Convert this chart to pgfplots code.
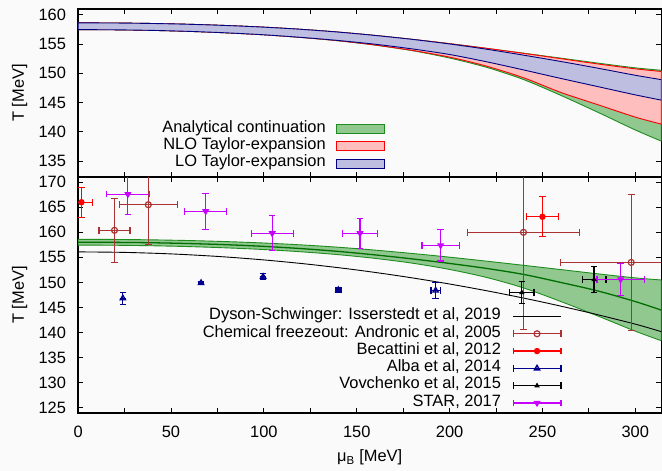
\documentclass[border=0pt]{standalone}
\usepackage{fontspec}
\setmainfont{Liberation Sans}
\usepackage{pgfplots}
\usepgfplotslibrary{fillbetween}
\pgfplotsset{compat=1.18}
\definecolor{bg}{RGB}{250,250,250}
\definecolor{gfill}{RGB}{144,200,144}
\definecolor{gedge}{RGB}{30,140,30}
\definecolor{gcent}{RGB}{0,110,0}
\definecolor{rfill}{RGB}{255,190,190}
\definecolor{redge}{RGB}{255,0,0}
\definecolor{bfill}{RGB}{190,190,225}
\definecolor{bedge}{RGB}{0,0,128}
\definecolor{brownc}{RGB}{170,50,50}
\definecolor{navyc}{RGB}{0,0,140}
\definecolor{starc}{RGB}{200,0,255}
\pgfplotsset{
  common/.style={
    scale only axis, width=586.1pt,
    xmin=0, xmax=314,
    xtick={0,25,...,300},
    tick align=inside, major tick length=5pt,
    axis line style={line width=1.4pt},
    every tick/.style={line width=0.9pt, black},
    ylabel={T [MeV]},
    ylabel style={at={(axis description cs:-0.1002,0.5)}, anchor=center},
    yticklabel style={inner sep=0pt, xshift=-12pt},
    /pgf/number format/assume math mode=true,
    font=\fontsize{16.5}{19}\selectfont,
    legend plot pos=right, legend cell align=right,
  },
  arealeg/.style={legend image code/.code={\draw[##1] (0pt,-4.5pt) rectangle (48pt,4.5pt);}},
  lineleg/.style={legend image code/.code={\draw[##1] (0pt,0pt) -- (48pt,0pt);}},
  ebar/.style={only marks, line width=1.2pt,
    error bars/x dir=both, error bars/y dir=both, error bars/x explicit, error bars/y explicit,
    error bars/error bar style={line width=1.2pt},
    error bars/error mark options={rotate=90, mark size=3.3pt, line width=1.2pt},
    legend image code/.code={
    \draw[##1] (0pt,0pt) -- (48pt,0pt) (0pt,-3.3pt) -- (0pt,3.3pt) (48pt,-3.3pt) -- (48pt,3.3pt);
    \draw[##1] plot coordinates {(24pt,0pt)};}},
}
\begin{document}
\pagecolor{bg}
\fontsize{16.5}{19}\selectfont
\begin{tikzpicture}
\path (0pt,0pt) rectangle (662pt,-470pt);
% ---------------- top panel ----------------
\begin{axis}[common, at={(75.7pt,-8.9pt)}, anchor=north west, height=169.1pt,
  ymin=132.24, ymax=161, ytick={135,140,...,160}, xticklabels={},
  legend style={at={(axis description cs:0.5257,0.3365)}, anchor=north east, draw=none, fill=none,
    inner sep=0pt, outer sep=0pt, row sep=0pt, column sep=10.3pt,
    nodes={inner xsep=0pt, inner ysep=0pt, text height=12pt, text depth=5.35pt}},
]
% analytical continuation
\addplot[draw=none, forget plot, smooth, name path=gu] coordinates {
(0,158.60)(20,158.58)(40,158.50)(60,158.36)(80,158.15)(100,157.87)(120,157.50)(140,157.03)(160,156.45)(180,155.78)(200,155.05)(220,154.25)(240,153.42)(260,152.57)(280,151.72)(300,150.92)(314,150.50)};
\addplot[draw=none, forget plot, smooth, name path=gl] coordinates {
(0,157.45)(20,157.42)(40,157.32)(60,157.15)(80,156.90)(100,156.57)(120,156.12)(140,155.55)(160,154.80)(180,153.85)(200,152.60)(220,151.00)(240,148.90)(260,146.20)(280,143.30)(300,140.30)(314,138.40)};
\addplot[arealeg, draw=gedge, fill=gfill, line width=0.9pt] fill between[of=gu and gl];
\addlegendentry{Analytical continuation}
% NLO
\addplot[draw=none, forget plot, smooth, name path=ru] coordinates {
(0,158.60)(20,158.58)(40,158.50)(60,158.36)(80,158.15)(100,157.87)(120,157.50)(140,157.03)(160,156.45)(180,155.78)(200,155.05)(220,154.25)(240,153.38)(260,152.48)(280,151.58)(300,150.75)(314,150.30)};
\addplot[draw=none, forget plot, smooth, name path=rl] coordinates {
(0,157.45)(20,157.42)(40,157.32)(60,157.15)(80,156.90)(100,156.57)(120,156.12)(140,155.56)(160,154.82)(180,153.90)(200,152.75)(220,151.20)(240,149.20)(260,146.70)(280,144.60)(300,142.50)(314,141.30)};
\addplot[arealeg, draw=redge, fill=rfill, line width=0.9pt] fill between[of=ru and rl];
\addlegendentry{NLO Taylor-expansion}
% LO
\addplot[draw=none, forget plot, smooth, name path=bu] coordinates {
(0,158.60)(20,158.58)(40,158.50)(60,158.36)(80,158.15)(100,157.87)(120,157.50)(140,157.03)(160,156.45)(180,155.78)(200,155.00)(220,154.10)(240,153.08)(260,152.00)(280,150.85)(300,149.65)(314,148.90)};
\addplot[draw=none, forget plot, smooth, name path=bl] coordinates {
(0,157.45)(20,157.42)(40,157.32)(60,157.15)(80,156.90)(100,156.57)(120,156.13)(140,155.60)(160,154.95)(180,154.15)(200,153.20)(220,151.95)(240,150.55)(260,149.10)(280,147.70)(300,146.30)(314,145.40)};
\addplot[arealeg, draw=bedge, fill=bfill, line width=0.9pt] fill between[of=bu and bl];
\addlegendentry{LO Taylor-expansion}
\end{axis}
% ---------------- bottom panel ----------------
\begin{axis}[common, at={(75.7pt,-178pt)}, anchor=north west, height=237pt,
  ymin=124, ymax=171, ytick={125,130,...,170},
  xticklabels={0,,50,,100,,150,,200,,250,,300},
  xticklabel style={inner sep=0pt, yshift=-12.8pt},
  xlabel={μ\textsubscript{B} [MeV]},
  xlabel style={at={(axis description cs:0.5,0)}, anchor=center, yshift=-45pt},
  legend style={at={(axis description cs:0.8289,0.4460)}, anchor=north east, draw=none, fill=none,
    inner sep=0pt, outer sep=0pt, row sep=0pt, column sep=11.7pt,
    nodes={inner xsep=0pt, inner ysep=0pt, text height=12pt, text depth=5.4pt}},
]
\addplot[draw=none, forget plot, smooth, name path=gu2] coordinates {
(0,158.60)(20,158.58)(40,158.50)(60,158.36)(80,158.15)(100,157.87)(120,157.50)(140,157.03)(160,156.45)(180,155.78)(200,155.05)(220,154.25)(240,153.42)(260,152.57)(280,151.72)(300,150.92)(314,150.50)};
\addplot[draw=none, forget plot, smooth, name path=gl2] coordinates {
(0,157.45)(20,157.42)(40,157.32)(60,157.15)(80,156.90)(100,156.57)(120,156.12)(140,155.55)(160,154.80)(180,153.85)(200,152.60)(220,151.00)(240,148.90)(260,146.20)(280,143.30)(300,140.30)(314,138.40)};
\addplot[forget plot, draw=gedge, fill=gfill, line width=0.9pt] fill between[of=gu2 and gl2];
\addplot[forget plot, gcent, line width=1.3pt, smooth] coordinates {
(0,158.02)(20,158.00)(40,157.92)(60,157.76)(80,157.53)(100,157.20)(120,156.76)(140,156.20)(160,155.50)(180,154.70)(200,153.80)(220,152.80)(240,151.60)(260,150.00)(280,148.30)(300,146.20)(314,144.50)
};
\addplot[lineleg, black, line width=0.9pt, smooth] coordinates {
(0,156.1)(25,156.0)(50,155.7)(75,155.2)(100,154.5)(125,153.6)(150,152.5)(175,151.2)(200,149.7)(225,148.0)(250,146.1)(275,144.0)(300,141.7)(314,140.2)
};
\addlegendentry{Dyson-Schwinger: Isserstedt et al, 2019}
\addplot[ebar, brownc, mark=o, mark size=3pt] coordinates {
(19.6,160.4) +- (8.3,6.4)
(37.8,165.5) +- (15.6,8)
(239.8,160.0) +- (30,19.4)
(297.8,154.0) +- (38,13.5)
};
\addlegendentry{Chemical freezeout: Andronic et al, 2005}
\addplot[ebar, redge, mark=*, mark size=2.6pt] coordinates {
(1.8,166.0) +- (6,3)
(250.0,163.1) +- (8.8,4)
};
\addlegendentry{Becattini et al, 2012}
\addplot[ebar, navyc, mark=triangle, mark size=3pt, mark options={line width=1.4pt}] coordinates {
(24.1,146.85) +- (0,1.2)
(66.2,149.9) +- (0,0.3)
(99.6,151.15) +- (0,0.6)
(140.1,148.5) +- (0,0.4)
(192.5,148.4) +- (2.5,1.65)
};
\addlegendentry{Alba et al, 2014}
\addplot[ebar, black, mark=triangle*, mark size=2pt] coordinates {
(238.9,148.0) +- (6.6,2.15)
(277.8,150.6) +- (6.4,2.6)
};
\addlegendentry{Vovchenko et al, 2015}
\addplot[ebar, starc, mark=triangle*, mark size=3pt, mark options={rotate=180}] coordinates {
(26.8,167.6) +- (11.6,4)
(68.7,164.2) +- (11.4,3.6)
(104.5,159.8) +- (11.3,3.5)
(151.8,159.8) +- (9.6,3)
(195.2,157.4) +- (10,3.1)
(292.1,150.6) +- (12.7,3.2)
};
\addlegendentry{STAR, 2017}
\end{axis}
\end{tikzpicture}
\end{document}
